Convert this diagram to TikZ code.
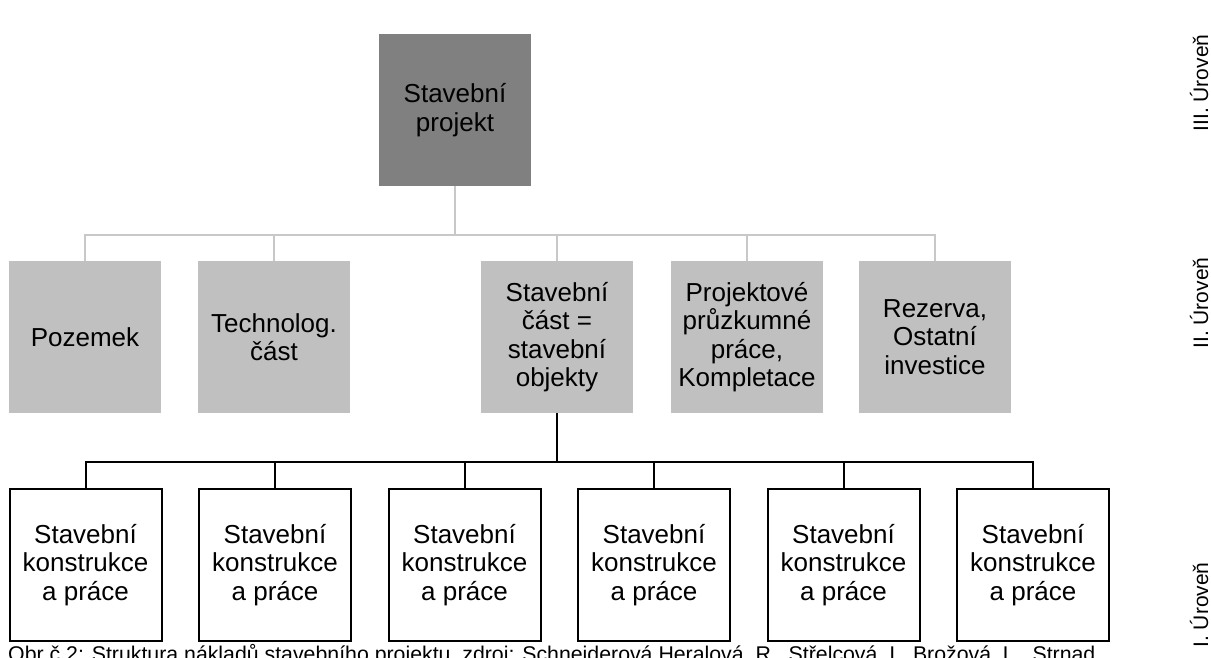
\documentclass[tikz,border=0pt]{standalone}
\usepackage{fontspec}
\setmainfont{Liberation Sans}
\usetikzlibrary{positioning}
\definecolor{darkbox}{RGB}{128,128,128}
\definecolor{lightbox}{RGB}{192,192,192}
\definecolor{greyline}{RGB}{200,200,200}
\newcommand{\bigtxt}{\fontsize{26}{28.5}\selectfont}

\begin{document}
\begin{tikzpicture}[x=1pt,y=-1pt,
    projbox/.style={minimum width=152pt,minimum height=152pt,inner sep=0pt,
      align=center,font=\bigtxt,fill=darkbox},
    partbox/.style={projbox,fill=lightbox},
    workbox/.style={projbox,fill=white,draw=black,line width=2pt},
    greylink/.style={draw=greyline,line width=2.5pt},
    blacklink/.style={draw=black,line width=2pt},
    levellabel/.style={rotate=90,anchor=base,inner sep=0pt,font=\fontsize{21}{24}\selectfont}]
   \useasboundingbox (0,0) rectangle (1211,657);
   % level III
   \node[projbox] (proj) at (455,110) {Stavební\\projekt};
   % level II
   \node[partbox] (poz)  at ( 85,337) {Pozemek};
   \node[partbox] (tech) at (274,337) {Technolog.\\část};
   \node[partbox] (stav) at (557,337) {Stavební\\část =\\stavební\\objekty};
   \node[partbox] (pruz) at (747,337) {Projektové\\průzkumné\\práce,\\Kompletace};
   \node[partbox] (rez)  at (935,337) {Rezerva,\\Ostatní\\investice};
   % level I
   \foreach \i/\x in {1/85.5,2/275,3/464.5,4/654,5/843.5,6/1033}
     \node[workbox] (kon\i) at (\x,565) {Stavební\\konstrukce\\a práce};
   % grey tree
   \coordinate (hub) at (455,235);
   \draw[greylink] (proj.south) -- (hub);
   \draw[greylink] (poz.north) -- ++(0,-26) -| (rez.north);
   \foreach \n in {tech,stav,pruz}
     \draw[greylink] (\n.north) -- (\n.north |- hub);
   % black tree
   \coordinate (bus) at (557,463);
   \draw[blacklink] (stav.south) -- (bus);
   \draw[blacklink] (kon1.north) -- ++(0,-26) -| (kon6.north);
   \foreach \i in {2,...,5}
     \draw[blacklink] (kon\i.north) -- (kon\i.north |- bus);
   % levels
   \node[levellabel] (lev3) at (1208, 83) {III. Úroveň};
   \node[levellabel] (lev2) at (1208,303) {II. Úroveň};
   \node[levellabel] (lev1) at (1208,605) {I. Úroveň};
   % caption
   \node[anchor=base west,inner sep=0pt,font=\fontsize{21.3}{24}\selectfont] (capt) at (8,661)
     {Obr č 2: Struktura nákladů stavebního projektu, zdroj: Schneiderová Heralová, R., Střelcová, I., Brožová, L., Strnad};
\end{tikzpicture}
\end{document}
